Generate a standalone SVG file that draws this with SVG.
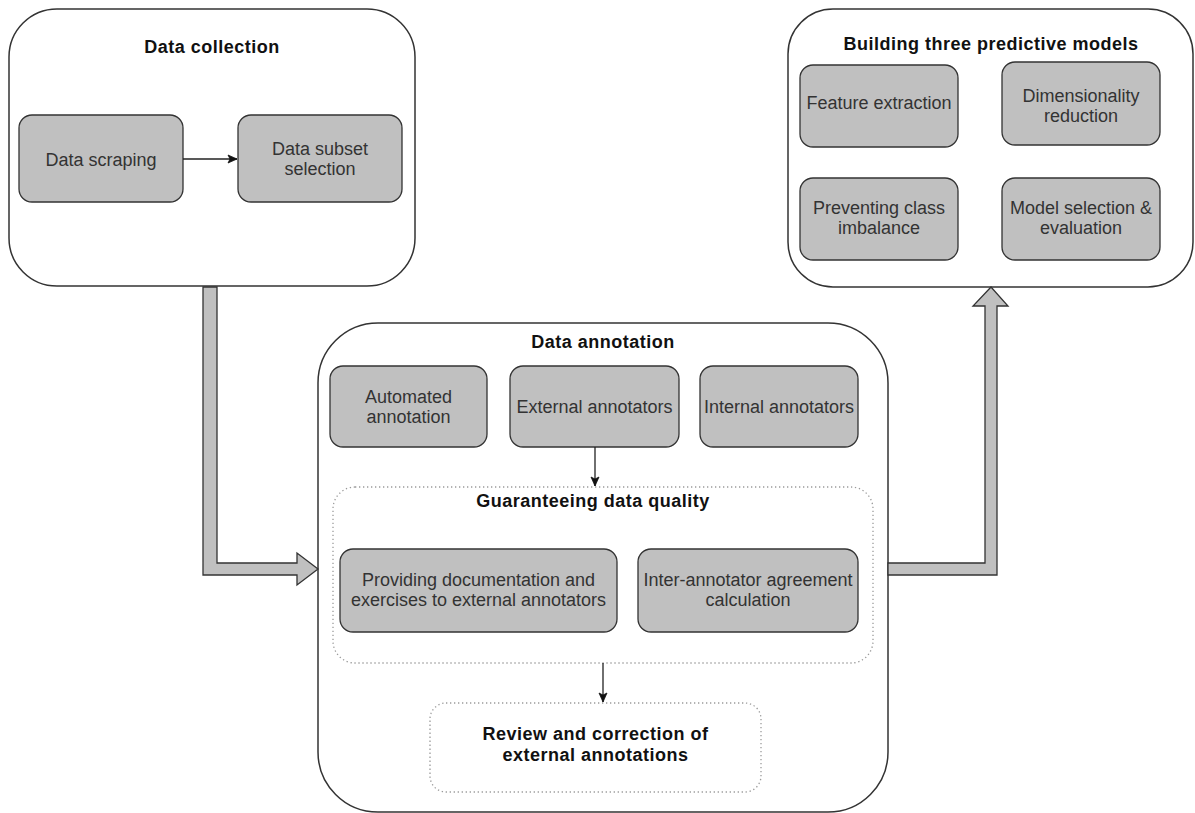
<svg xmlns="http://www.w3.org/2000/svg" width="1195" height="813" viewBox="0 0 1195 813">
<style>
.outer{fill:#ffffff;stroke:#333333;stroke-width:1.5}
.box{fill:#c0c0c0;stroke:#333333;stroke-width:1.3}
.dot{fill:none;stroke:#9a9a9a;stroke-width:1.3;stroke-dasharray:1.3 2.7}
.t{font-family:"Liberation Sans",Arial,sans-serif;font-size:18px;fill:#333333;text-anchor:middle}
.h{font-family:"Liberation Sans",Arial,sans-serif;font-size:18px;font-weight:bold;fill:#111111;text-anchor:middle;letter-spacing:0.5px}
.ln{fill:none;stroke:#222222;stroke-width:1.3}
.fat{fill:#c0c0c0;stroke:#333333;stroke-width:1.3;stroke-linejoin:miter}
</style>
<defs>
<marker id="arr" markerUnits="userSpaceOnUse" markerWidth="12" markerHeight="12" viewBox="0 0 12 12" refX="10" refY="6" orient="auto">
<path d="M1,2 L10,6 L1,10 L3,6 Z" fill="#111111" stroke="#111111" stroke-width="0.8"/>
</marker>
</defs>
<rect width="1195" height="813" fill="#ffffff"/>

<g id="data-collection">
<rect class="outer" x="9" y="9" width="406" height="277" rx="48"/>
<text class="h" x="212" y="53">Data collection</text>
</g>
<g id="data-scraping">
<rect class="box" x="19" y="115" width="164" height="87" rx="13"/>
<text class="t" x="101" y="166">Data scraping</text>
</g>
<g id="data-subset-selection">
<rect class="box" x="238" y="115" width="164" height="87" rx="13"/>
<text class="t" x="320" y="155">Data subset</text>
<text class="t" x="320" y="175">selection</text>
</g>

<g id="building-models">
<rect class="outer" x="788" y="9" width="405" height="278" rx="45"/>
<text class="h" x="991" y="50">Building three predictive models</text>
</g>
<g id="feature-extraction">
<rect class="box" x="800" y="65" width="158" height="82" rx="13"/>
<text class="t" x="879" y="109">Feature extraction</text>
</g>
<g id="dimensionality-reduction">
<rect class="box" x="1002" y="62" width="158" height="83" rx="13"/>
<text class="t" x="1081" y="102">Dimensionality</text>
<text class="t" x="1081" y="122">reduction</text>
</g>
<g id="preventing-class-imbalance">
<rect class="box" x="800" y="178" width="158" height="82" rx="13"/>
<text class="t" x="879" y="214">Preventing class</text>
<text class="t" x="879" y="234">imbalance</text>
</g>
<g id="model-selection">
<rect class="box" x="1002" y="178" width="158" height="82" rx="13"/>
<text class="t" x="1081" y="214">Model selection &amp;</text>
<text class="t" x="1081" y="234">evaluation</text>
</g>

<g id="data-annotation">
<rect class="outer" x="318" y="323" width="570" height="489" rx="60"/>
<text class="h" x="603" y="348">Data annotation</text>
</g>
<g id="automated-annotation">
<rect class="box" x="330" y="366" width="157" height="81" rx="13"/>
<text class="t" x="408.5" y="403">Automated</text>
<text class="t" x="408.5" y="423">annotation</text>
</g>
<g id="external-annotators">
<rect class="box" x="510" y="366" width="169" height="81" rx="13"/>
<text class="t" x="594.5" y="413">External annotators</text>
</g>
<g id="internal-annotators">
<rect class="box" x="700" y="366" width="158" height="81" rx="13"/>
<text class="t" x="779" y="413">Internal annotators</text>
</g>
<g id="guaranteeing-data-quality">
<rect class="dot" x="333" y="487" width="540" height="176" rx="22"/>
<text class="h" x="593" y="507">Guaranteeing data quality</text>
</g>
<g id="providing-documentation">
<rect class="box" x="340" y="549" width="277" height="83" rx="13"/>
<text class="t" x="478.5" y="586">Providing documentation and</text>
<text class="t" x="478.5" y="606">exercises to external annotators</text>
</g>
<g id="inter-annotator-agreement">
<rect class="box" x="638" y="549" width="220" height="83" rx="13"/>
<text class="t" x="748" y="586">Inter-annotator agreement</text>
<text class="t" x="748" y="606">calculation</text>
</g>
<g id="review-correction">
<rect class="dot" x="430" y="703" width="331" height="89" rx="16"/>
<text class="h" x="595.5" y="740">Review and correction of</text>
<text class="h" x="595.5" y="761">external annotations</text>
</g>

<g id="connectors">
<line class="ln" x1="183" y1="159" x2="237" y2="159" marker-end="url(#arr)"/>
<line class="ln" x1="595" y1="447" x2="595" y2="486" marker-end="url(#arr)"/>
<line class="ln" x1="603" y1="663" x2="603" y2="702" marker-end="url(#arr)"/>
<path class="fat" d="M203,287 L217,287 L217,563 L297,563 L297,553 L318,569 L297,585 L297,575 L203,575 Z"/>
<path class="fat" d="M888,563 L985,563 L985,306 L973,306 L991,287 L1008,306 L997,306 L997,575 L888,575 Z"/>
</g>
</svg>
